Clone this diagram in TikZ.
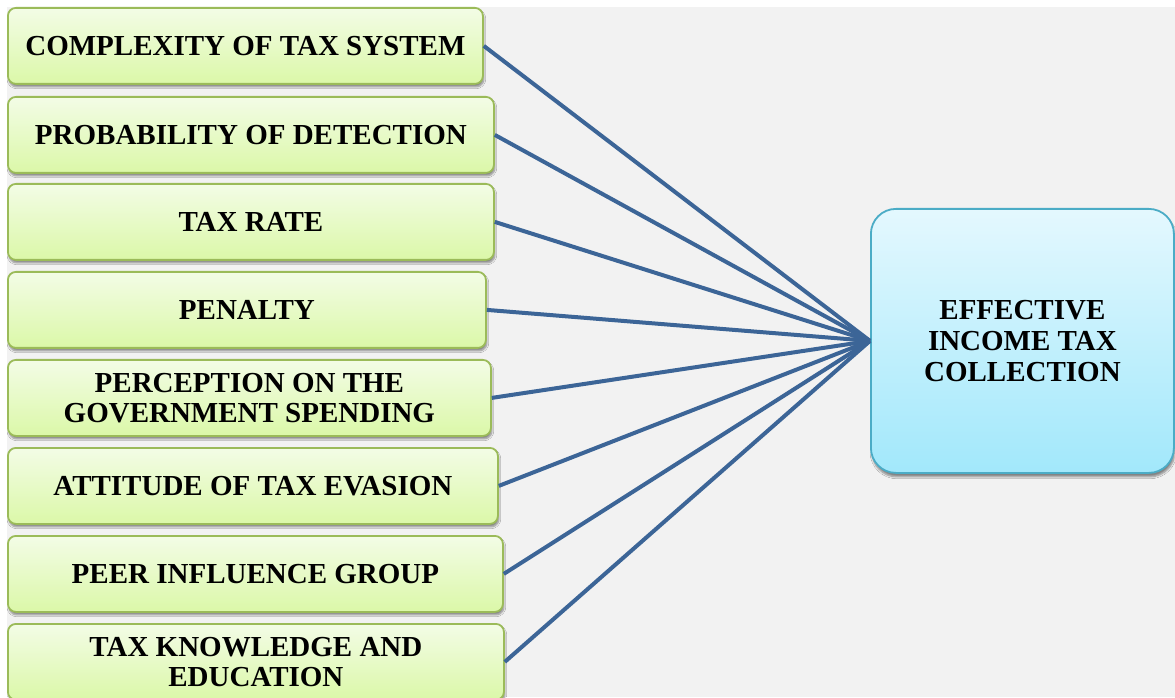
\documentclass[tikz,border=0pt]{standalone}
\usepackage{fontspec}
\setmainfont{Liberation Serif}
\usetikzlibrary{shadows.blur}

\definecolor{bggray}{HTML}{F2F2F2}
\definecolor{factortop}{HTML}{F3FCE6}
\definecolor{factorbottom}{HTML}{DBF8A8}
\definecolor{factorborder}{HTML}{9BBB59}
\definecolor{goaltop}{HTML}{E4F8FE}
\definecolor{goalbottom}{HTML}{A2E8FB}
\definecolor{goalborder}{HTML}{4BACC6}
\definecolor{linkblue}{HTML}{3C6597}

\tikzset{
  factor/.style={draw=factorborder, line width=1.8pt, rounded corners=8pt,
    top color=factortop, bottom color=factorbottom,
    blur shadow={shadow xshift=1pt, shadow yshift=-3pt, shadow blur steps=6, shadow opacity=45},
    font=\bfseries\fontsize{29}{30.5}\selectfont, align=center,
    inner sep=0pt, anchor=north west, minimum height=76pt},
  goalbox/.style={draw=goalborder, line width=1.8pt, rounded corners=25pt,
    top color=goaltop, bottom color=goalbottom,
    blur shadow={shadow xshift=1pt, shadow yshift=-4pt, shadow blur steps=6, shadow opacity=45},
    font=\bfseries\fontsize{29}{31}\selectfont, align=center,
    inner sep=0pt, anchor=north west, minimum width=303pt, minimum height=264pt},
  link/.style={draw=linkblue, line width=4pt}
}

\begin{document}
\begin{tikzpicture}[x=1pt,y=1pt]
  \useasboundingbox (0,0) rectangle (1175,697);
  \fill[white] (0,0) rectangle (1175,697);
  \fill[bggray] (7,0) rectangle (1175,690);

  % factor boxes, top to bottom
  \node[factor, minimum width=475pt] (f1) at (7,690) {COMPLEXITY OF TAX SYSTEM};
  \node[factor, minimum width=486pt] (f2) at (7,601) {PROBABILITY OF DETECTION};
  \node[factor, minimum width=486pt] (f3) at (7,514) {TAX RATE};
  \node[factor, minimum width=478pt] (f4) at (7,426) {PENALTY};
  \node[factor, minimum width=483pt] (f5) at (7,338) {PERCEPTION ON THE\\GOVERNMENT SPENDING};
  \node[factor, minimum width=490pt] (f6) at (7,250) {ATTITUDE OF TAX EVASION};
  \node[factor, minimum width=495pt] (f7) at (7,162) {PEER INFLUENCE GROUP};
  \node[factor, minimum width=496pt] (f8) at (7,74) {TAX KNOWLEDGE AND\\EDUCATION};

  % outcome box
  \node[goalbox] (goal) at (870,489) {EFFECTIVE\\INCOME TAX\\COLLECTION};

  % connectors
  \foreach \f in {f1,f2,f3,f4,f5,f6,f7,f8}
    \draw[link] (\f.east) -- (goal.west);
\end{tikzpicture}
\end{document}
